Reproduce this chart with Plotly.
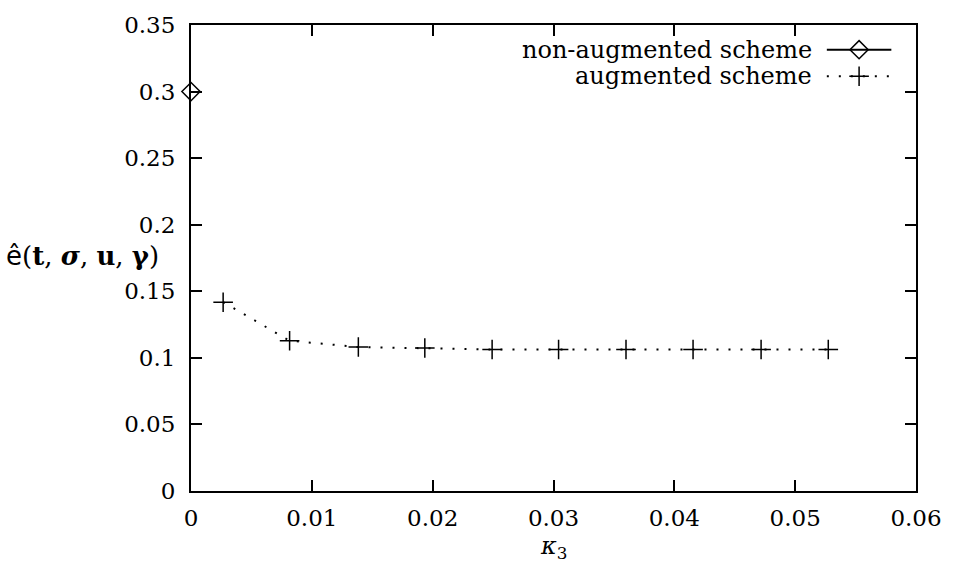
import plotly.graph_objects as go

# Error estimate versus the stabilisation parameter kappa_3
kappa3_aug = [0.00266, 0.00816, 0.01385, 0.01935, 0.02492, 0.03042,
              0.03600, 0.04155, 0.04718, 0.05274]
err_aug = [0.1418, 0.1129, 0.1081, 0.1074, 0.1063, 0.1063,
           0.1063, 0.1063, 0.1063, 0.1063]

kappa3_non = [0.0]
err_non = [0.30]

x_ticks = [0, 0.01, 0.02, 0.03, 0.04, 0.05, 0.06]
x_tick_text = ["0", "0.01", "0.02", "0.03", "0.04", "0.05", "0.06"]
y_ticks = [0, 0.05, 0.1, 0.15, 0.2, 0.25, 0.3, 0.35]
y_tick_text = ["0", "0.05", "0.1", "0.15", "0.2", "0.25", "0.3", "0.35"]

legend_names = ["non-augmented scheme", "augmented scheme"]

SERIF = "DejaVu Serif"
DOTTED = "2px,10px"

fig = go.Figure()

fig.add_trace(go.Scatter(
    x=kappa3_non, y=err_non, mode="lines+markers",
    line=dict(color="black", width=2),
    marker=dict(symbol="diamond-open", size=14, color="black",
                line=dict(width=1.5, color="black")),
    cliponaxis=False, showlegend=False))

fig.add_trace(go.Scatter(
    x=kappa3_aug, y=err_aug, mode="lines+markers",
    line=dict(color="black", width=2, dash=DOTTED),
    marker=dict(symbol="cross-thin-open", size=14, color="black",
                line=dict(width=1.5, color="black")),
    cliponaxis=False, showlegend=False))

# Key in the top right corner: text on the left, sample on the right
key_x0, key_x1, key_mid = 0.877, 0.966, 0.9215
key_rows = [0.947, 0.890]
fig.add_trace(go.Scatter(
    x=[key_x0, key_mid, key_x1], y=[key_rows[0]] * 3, mode="lines+markers",
    xaxis="x2", yaxis="y2",
    line=dict(color="black", width=2),
    marker=dict(symbol="diamond-open", size=14, color="black",
                line=dict(width=1.5, color="black"),
                opacity=[0, 1, 0]),
    cliponaxis=False, showlegend=False, hoverinfo="skip"))
fig.add_trace(go.Scatter(
    x=[key_x0, key_mid, key_x1], y=[key_rows[1]] * 3, mode="lines+markers",
    xaxis="x2", yaxis="y2",
    line=dict(color="black", width=2, dash=DOTTED),
    marker=dict(symbol="cross-thin-open", size=14, color="black",
                line=dict(width=1.5, color="black"),
                opacity=[0, 1, 0]),
    cliponaxis=False, showlegend=False, hoverinfo="skip"))

for name, yrow in zip(legend_names, key_rows):
    fig.add_annotation(
        text=name, xref="paper", yref="paper", x=0.859, y=yrow,
        xanchor="right", yanchor="middle", showarrow=False,
        font=dict(family=SERIF, size=24, color="black"))

axis_common = dict(
    showgrid=False, zeroline=False, showline=True, mirror="ticks",
    linecolor="black", linewidth=2, ticks="inside", ticklen=11,
    tickwidth=2, tickcolor="black",
    tickfont=dict(family=SERIF, size=23, color="black"))

fig.update_layout(
    width=954, height=571,
    margin=dict(l=191, r=35, t=18, b=80),
    paper_bgcolor="white", plot_bgcolor="white",
    font=dict(family=SERIF, color="black"),
    xaxis=dict(range=[0, 0.06], tickvals=x_ticks, ticktext=x_tick_text,
               ticklabelstandoff=5, **axis_common),
    yaxis=dict(range=[0, 0.35], tickvals=y_ticks, ticktext=y_tick_text,
               ticklabelstandoff=9, **axis_common),
    xaxis2=dict(overlaying="x", range=[0, 1], visible=False,
                showticklabels=False),
    yaxis2=dict(overlaying="y", range=[0, 1], visible=False,
                showticklabels=False),
)

# Axis titles
fig.add_annotation(
    text="<i>κ</i><sub>3</sub>", xref="paper", yref="paper",
    x=0.5, y=-0.122, xanchor="center", yanchor="middle", showarrow=False,
    font=dict(family=SERIF, size=24, color="black"))
fig.add_annotation(
    text=("<span style=\"font-family:'DejaVu Sans'\">ê</span>"
          "(<b>t</b>, <b><i>σ</i></b>, <b>u</b>, <b>γ</b>)"),
    xref="paper", yref="paper", x=-0.042, y=0.505,
    xanchor="right", yanchor="middle", showarrow=False,
    font=dict(family=SERIF, size=26, color="black"))

fig.write_html("out.html")
